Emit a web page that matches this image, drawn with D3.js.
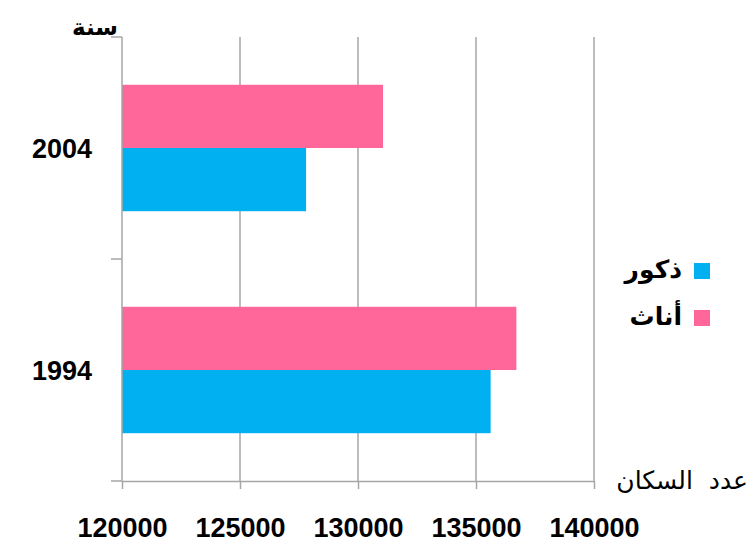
<!DOCTYPE html>
<html>
<head>
<meta charset="utf-8">
<script src="https://cdn.jsdelivr.net/npm/d3@7"></script>
<style>
  body { margin: 0; background: #fff; }
</style>
</head>
<body>
<svg id="chart" width="754" height="542"></svg>
<script>
// data
const years = ["2004", "1994"];
const seriesNames = ["أناث", "ذكور"];          // drawn top to bottom inside each year
const females = [131060, 136710];
const males = [127800, 135620];
const xTicks = [120000, 125000, 130000, 135000, 140000];
const legendOrder = ["ذكور", "أناث"];
const colors = { "ذكور": "#00b0f0", "أناث": "#ff6699" };

const svg = d3.select("#chart");
const gridColor = "#a6a6a6";
const arabicFont = "'DejaVu Sans', sans-serif";
const numFont = "'Liberation Sans', Arial, sans-serif";

const x = d3.scaleLinear()
  .domain([120000, 140000])
  .range([122, 594]);

const y = d3.scaleBand()
  .domain(years)
  .range([37, 481]);

// sub band for the two bars inside each year
const ySub = d3.scaleBand()
  .domain(seriesNames)
  .range([0, y.bandwidth()])
  .paddingInner(0)
  .paddingOuter(0.756);

const rows = years.flatMap((yr, i) => [
  { year: yr, name: "أناث", value: females[i] },
  { year: yr, name: "ذكور", value: males[i] },
]);

// vertical gridlines
svg.append("g")
  .selectAll("line")
  .data(xTicks.slice(1))
  .join("line")
  .attr("x1", d => x(d))
  .attr("x2", d => x(d))
  .attr("y1", y.range()[0])
  .attr("y2", y.range()[1])
  .attr("stroke", gridColor)
  .attr("stroke-width", 1.5);

// bars
svg.append("g")
  .selectAll("rect")
  .data(rows)
  .join("rect")
  .attr("x", x(120000))
  .attr("y", d => y(d.year) + ySub(d.name))
  .attr("width", d => x(d.value) - x(120000))
  .attr("height", ySub.bandwidth())
  .attr("fill", d => colors[d.name]);

// x axis
const xAxis = svg.append("g")
  .attr("transform", `translate(0,${y.range()[1]})`)
  .call(d3.axisBottom(x).tickValues(xTicks).tickSize(8).tickSizeOuter(0).tickFormat(d3.format("d")));
xAxis.select(".domain").attr("stroke", gridColor).attr("stroke-width", 1.5);
xAxis.selectAll(".tick line").attr("stroke", gridColor).attr("stroke-width", 1.5);
xAxis.selectAll(".tick text")
  .attr("y", 56)
  .attr("dy", 0)
  .attr("fill", "#000")
  .style("font-family", numFont)
  .style("font-weight", "bold")
  .style("font-size", "27px");

// y axis: line plus ticks at band edges
const edges = years.map(d => y(d)).concat([y.range()[1]]);
const yAxis = svg.append("g");
yAxis.append("line")
  .attr("x1", x(120000)).attr("x2", x(120000))
  .attr("y1", y.range()[0]).attr("y2", y.range()[1])
  .attr("stroke", gridColor).attr("stroke-width", 1.5);
yAxis.selectAll(".edge")
  .data(edges)
  .join("line")
  .attr("class", "edge")
  .attr("x1", x(120000) - 11).attr("x2", x(120000))
  .attr("y1", d => d).attr("y2", d => d)
  .attr("stroke", gridColor).attr("stroke-width", 1.5);
yAxis.selectAll("text")
  .data(years)
  .join("text")
  .attr("x", 92)
  .attr("y", d => y(d) + y.bandwidth() / 2)
  .attr("dy", "0.36em")
  .attr("text-anchor", "end")
  .style("font-family", numFont)
  .style("font-weight", "bold")
  .style("font-size", "27px")
  .text(d => d);

// axis titles
svg.append("text")
  .attr("x", 118).attr("y", 35)
  .attr("text-anchor", "end")
  .style("font-family", arabicFont)
  .style("font-weight", "bold")
  .style("font-size", "23px")
  .text("سنة");

svg.append("text")
  .attr("x", 748).attr("y", 489)
  .attr("text-anchor", "end")
  .style("font-family", arabicFont)
  .style("font-size", "25px")
  .style("white-space", "pre")
  .text("عدد  السكان");

// legend
const legend = svg.append("g");
legendOrder.forEach((name, i) => {
  const cy = 271 + i * 47;
  legend.append("rect")
    .attr("x", 694).attr("y", cy - 8)
    .attr("width", 16).attr("height", 16)
    .attr("fill", colors[name]);
  legend.append("text")
    .attr("x", 682).attr("y", cy + 7)
    .attr("text-anchor", "end")
    .style("font-family", arabicFont)
    .style("font-weight", "bold")
    .style("font-size", "25px")
    .text(name);
});
</script>
</body>
</html>
